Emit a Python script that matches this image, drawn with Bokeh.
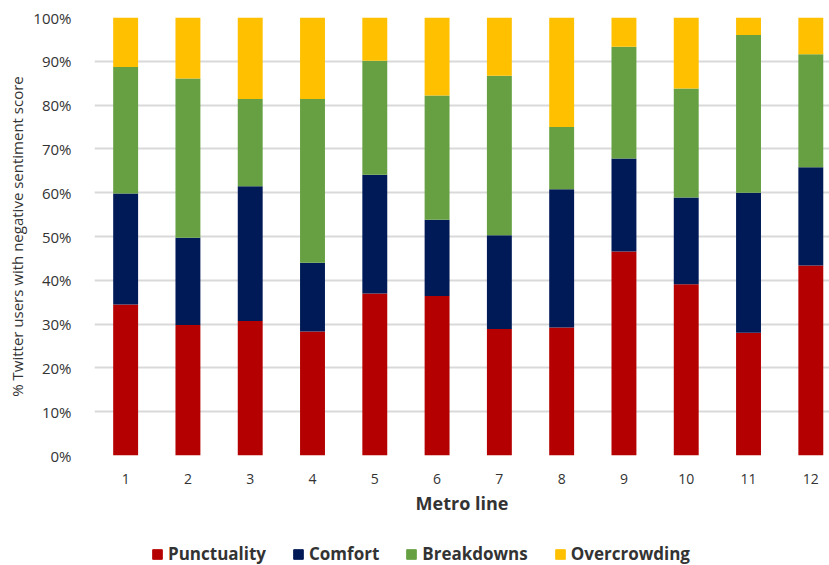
from bokeh.plotting import figure
from bokeh.layouts import column
from bokeh.models import (ColumnDataSource, Range1d, FixedTicker, Legend,
                          LegendItem, PrintfTickFormatter)
from bokeh.embed import file_html
from bokeh.resources import INLINE

# Share of Twitter users with a negative sentiment score, by complaint type (%)
lines = [1, 2, 3, 4, 5, 6, 7, 8, 9, 10, 11, 12]
punctuality = [34.5, 29.8, 30.7, 28.3, 37.0, 36.4, 28.9, 29.2, 46.6, 39.1, 28.0, 43.4]
comfort = [25.3, 19.9, 30.8, 15.7, 27.1, 17.4, 21.4, 31.6, 21.2, 19.8, 32.0, 22.4]
breakdowns = [28.9, 36.4, 19.9, 37.4, 26.0, 28.4, 36.4, 14.2, 25.5, 24.9, 36.0, 25.8]
overcrowding = [11.3, 13.9, 18.6, 18.6, 9.9, 17.8, 13.3, 25.0, 6.7, 16.2, 4.0, 8.4]

categories = ["Punctuality", "Comfort", "Breakdowns", "Overcrowding"]
colors = ["#B40000", "#001A57", "#66A042", "#FFC000"]
y_ticks = [0, 10, 20, 30, 40, 50, 60, 70, 80, 90, 100]

source = ColumnDataSource(dict(line=lines, Punctuality=punctuality, Comfort=comfort,
                               Breakdowns=breakdowns, Overcrowding=overcrowding))

FONT = "Open Sans"
TEXT = "#333333"

p = figure(width=829, height=538, output_backend="svg", toolbar_location=None,
           x_range=Range1d(0.5, 12.3), y_range=Range1d(0, 100),
           min_border_left=94, min_border_right=0, min_border_top=17,
           min_border_bottom=83)

p.vbar_stack(categories, x="line", width=0.4, color=colors,
             line_color=None, source=source)

# Axes
p.xaxis.ticker = FixedTicker(ticks=lines)
p.xaxis.axis_label = "Metro line"
p.xaxis.axis_label_text_font = FONT
p.xaxis.axis_label_text_font_style = "bold"
p.xaxis.axis_label_text_font_size = "18px"
p.xaxis.axis_label_text_color = TEXT
p.xaxis.axis_label_standoff = 4
p.xaxis.major_label_text_font = FONT
p.xaxis.major_label_text_font_size = "14px"
p.xaxis.major_label_text_color = TEXT
p.xaxis.major_label_standoff = 12
p.xaxis.axis_line_color = None
p.xaxis.major_tick_line_color = None
p.xaxis.minor_tick_line_color = None

p.yaxis.ticker = FixedTicker(ticks=y_ticks)
p.yaxis.formatter = PrintfTickFormatter(format="%d%%")
p.yaxis.axis_label = "% Twitter users with negative sentiment score"
p.yaxis.axis_label_text_font = FONT
p.yaxis.axis_label_text_font_style = "normal"
p.yaxis.axis_label_text_font_size = "15px"
p.yaxis.axis_label_text_color = TEXT
p.yaxis.axis_label_standoff = 3
p.yaxis.major_label_text_font = FONT
p.yaxis.major_label_text_font_size = "15px"
p.yaxis.major_label_text_color = TEXT
p.yaxis.major_label_standoff = 17
p.yaxis.axis_line_color = None
p.yaxis.major_tick_line_color = None
p.yaxis.minor_tick_line_color = None

p.xgrid.grid_line_color = None
p.ygrid.grid_line_color = "#D9D9D9"
p.ygrid.grid_line_width = 2
p.outline_line_color = None

# Legend strip underneath the chart; its swatch renderers sit below the visible range
key = figure(width=829, height=27, output_backend="svg", toolbar_location=None,
             x_range=Range1d(0, 1), y_range=Range1d(0, 1),
             min_border=0, outline_line_color=None)
key.axis.visible = False
key.grid.visible = False
swatches = [key.vbar(x=[0.5], top=[-1], bottom=[-2], width=0.1, color=c) for c in colors]
legend = Legend(items=[LegendItem(label=c, renderers=[r]) for c, r in zip(categories, swatches)],
                orientation="horizontal", location=(57, 0),
                label_text_font=FONT, label_text_font_size="17px",
                label_text_font_style="bold", label_text_color=TEXT,
                glyph_width=12, glyph_height=12, label_standoff=5, spacing=26,
                border_line_color=None, background_fill_alpha=0,
                padding=0, margin=0)
key.add_layout(legend, "center")

open("out.html", "w").write(file_html(column(p, key, spacing=0), INLINE))
